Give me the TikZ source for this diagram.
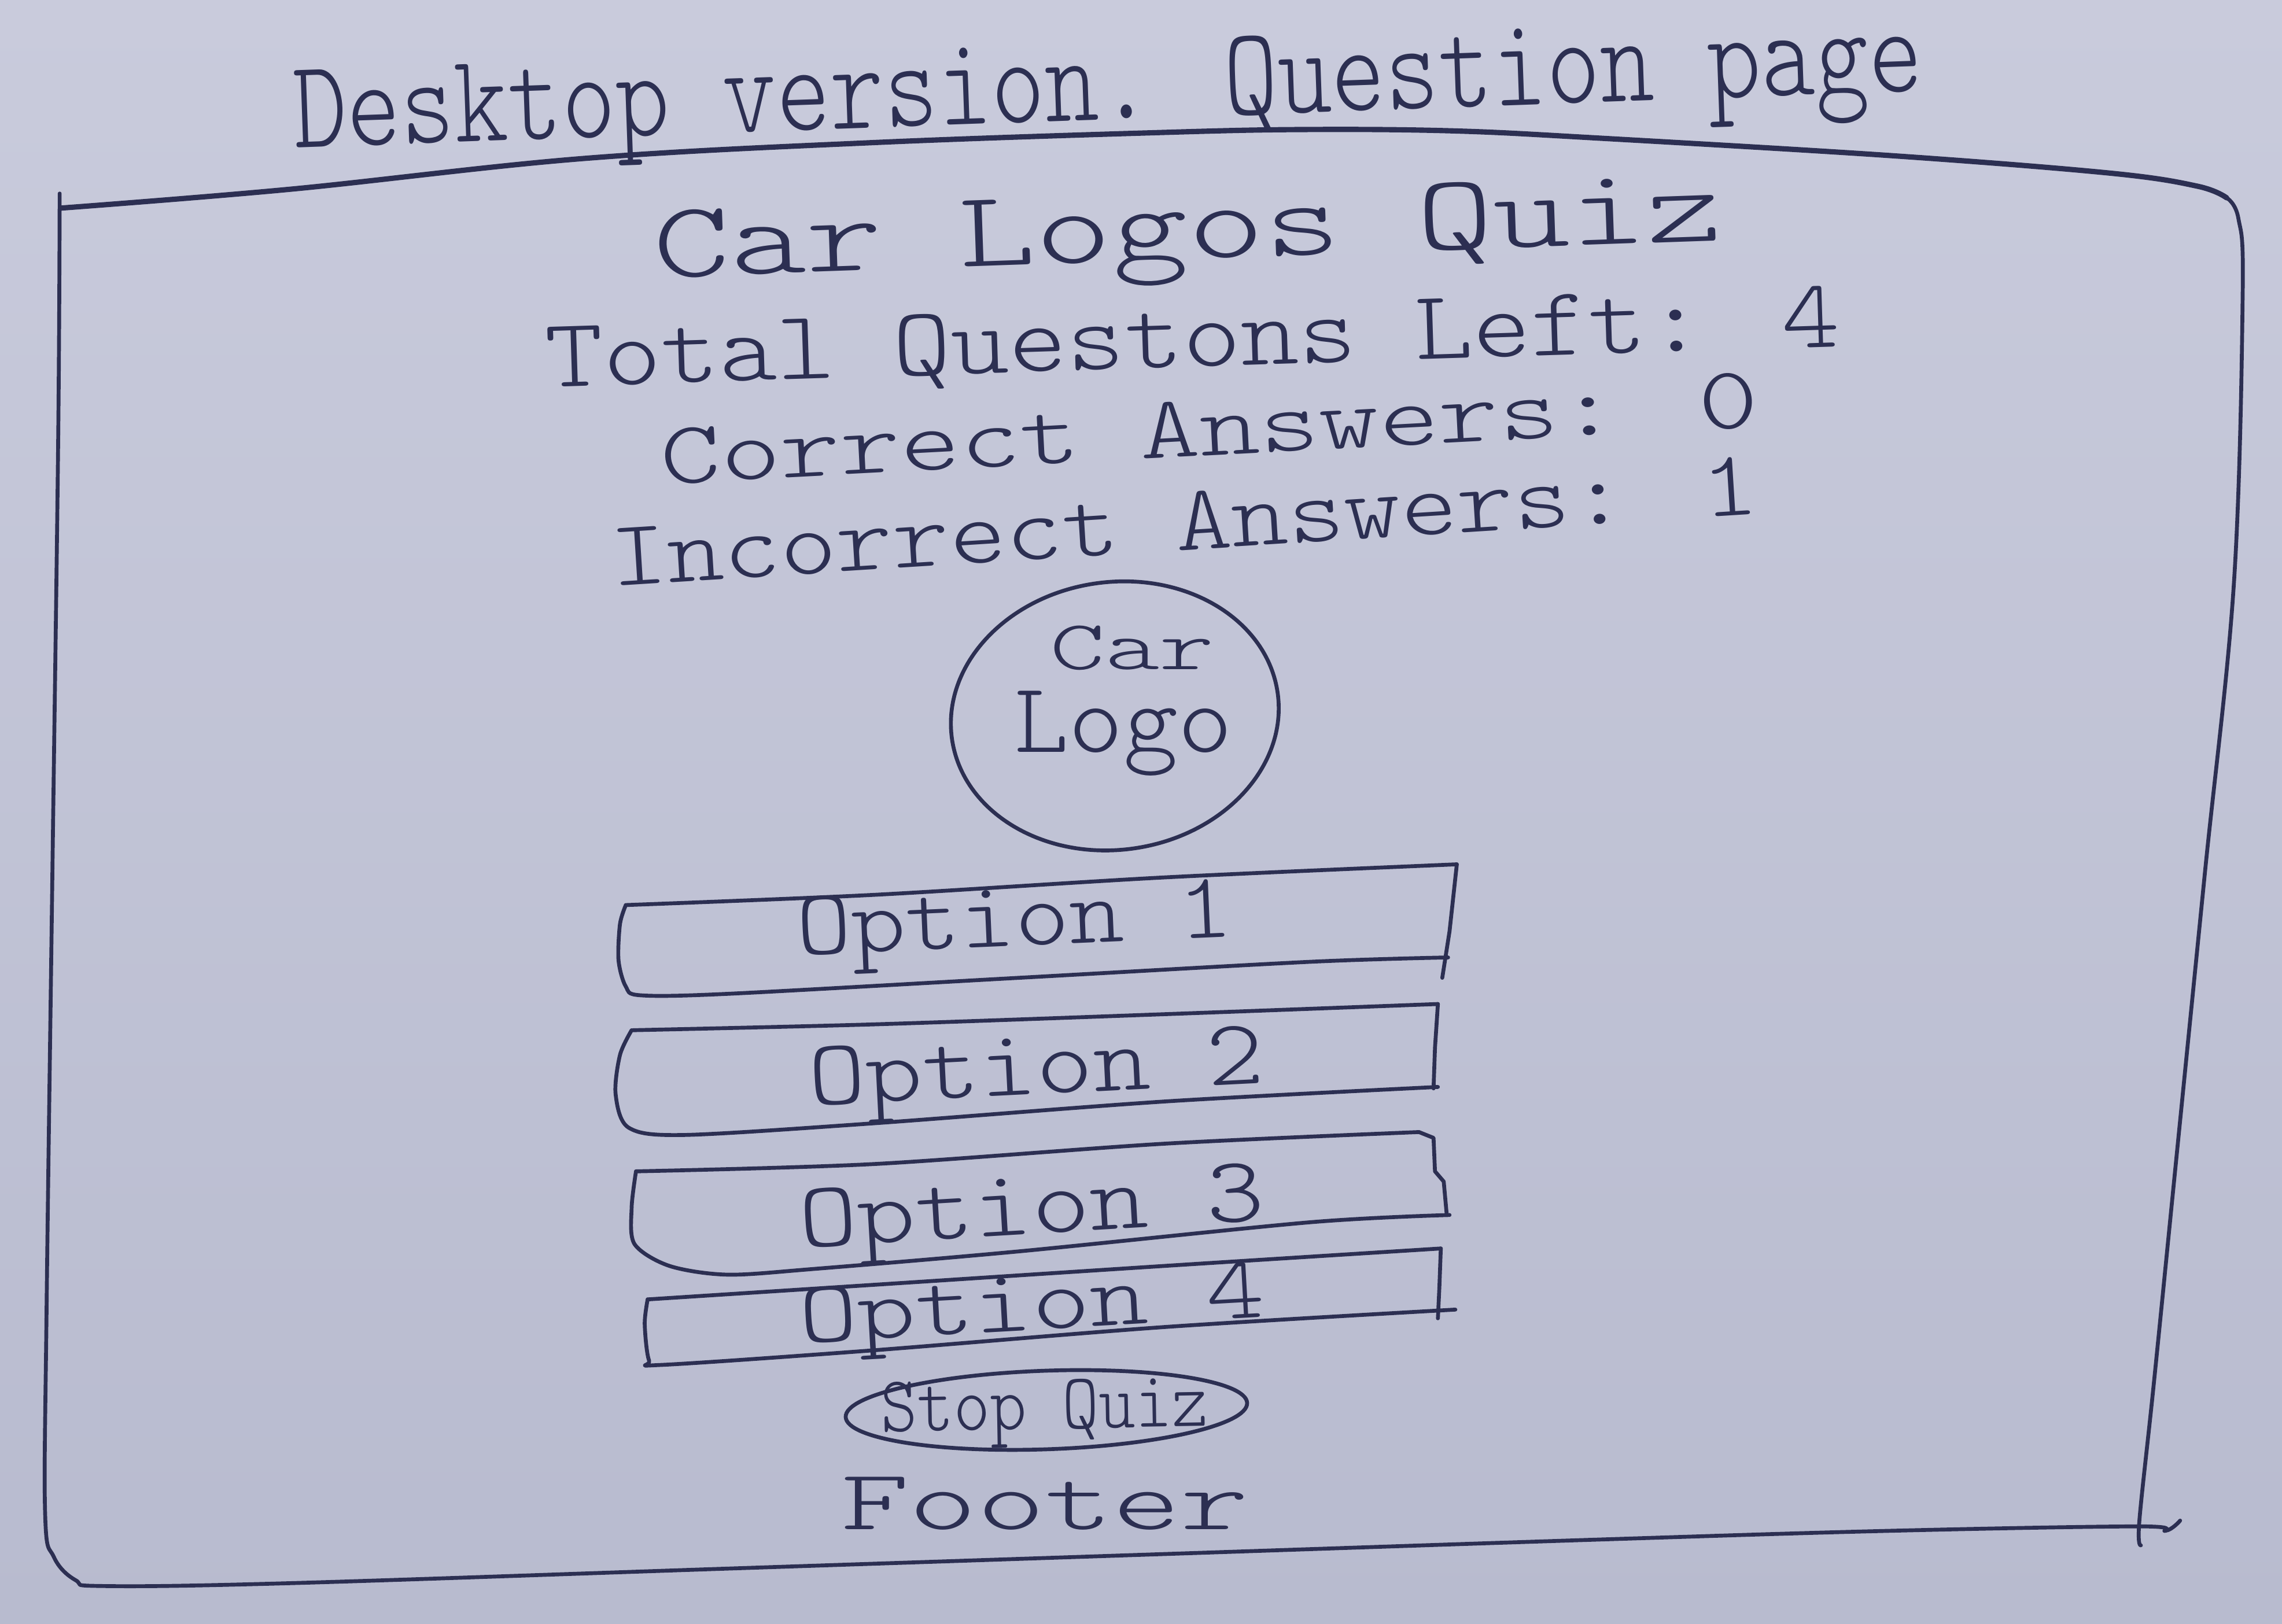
\documentclass[tikz,border=0pt]{standalone}
\usepackage{fontspec}
\usepackage{graphicx}
\usetikzlibrary{shapes.geometric}

% thin, evenly spaced lettering
\newfontfamily\handfont{lmmonolt10-regular.otf}

\definecolor{ink}{HTML}{2C2F52}
\definecolor{papertop}{HTML}{C9CBDC}
\definecolor{paperbot}{HTML}{B8BBCF}

% one drawing unit of the sheet
\newlength\pxu
\setlength\pxu{0.02516cm}
% hand-lettered label squeezed into a given width and cap height
\newcommand\hand[3]{\resizebox{#1\pxu}{#2\pxu}{\handfont #3}}

\tikzset{
  pen/.style={draw=ink, line width=1.9pt, line cap=round, line join=round},
  thickpen/.style={pen, line width=2.6pt},
  txt/.style={inner sep=0pt, anchor=base, text=ink},
}

\begin{document}
\begin{tikzpicture}[x=0.02516cm, y=-0.02516cm]
  % paper
  \useasboundingbox (0,0) rectangle (1568,1116);
  \fill[top color=papertop, bottom color=paperbot] (0,0) rectangle (1568,1116);

  % heading above the sheet
  \node[txt, rotate=2] (title) at (762,82) {\hand{1120}{54}{Desktop version. Question page}};

  % browser window frame
  \draw[thickpen] plot[smooth, tension=0.6] coordinates {
    (42,143) (200,130) (400,109) (600,98) (800,91) (900,89) (1000,90)
    (1100,95) (1300,107) (1450,119) (1510,128) (1530,136)};
  \draw[pen] plot[smooth, tension=0.6] coordinates {
    (1530,136) (1538,150) (1541,200) (1535,400) (1515,600) (1495,800)
    (1480,950) (1470,1045) (1471,1062)};
  \draw[pen] plot[smooth, tension=0.6] coordinates {
    (41,133) (40,300) (36,600) (32,900) (31,1040) (37,1070) (52,1086) (72,1090)
    (200,1088) (500,1078) (800,1068) (1100,1058) (1300,1052) (1470,1049)
    (1488,1052) (1498,1045)};

  % page header
  \node[txt, rotate=2]   (heading) at (817,178) {\hand{735}{46}{Car Logos Quiz}};
  \node[txt, rotate=1.8] (left)    at (820,252) {\hand{890}{42}{Total Questons Left: 4}};
  \node[txt, rotate=3]   (correct) at (832,313) {\hand{755}{38}{Correct Answers: 0}};
  \node[txt, rotate=3.6] (wrong)   at (815,378) {\hand{790}{40}{Incorrect Answers: 1}};

  % logo placeholder
  \node[pen, ellipse, minimum width=226\pxu, minimum height=184\pxu,
        inner sep=0pt, rotate=8] (logo) at (766,492) {};
  \node[txt] (logocar)  at (778,460) {\hand{113}{30}{Car}};
  \node[txt] (logoword) at (772,517) {\hand{150}{42}{Logo}};

  % answer buttons
  \draw[pen] plot[smooth, tension=0.5] coordinates {
    (430,622) (600,615) (800,603) (1001,594)};
  \draw[pen] (1001,594) -- (996,640) -- (991,672);
  \draw[pen] plot[smooth, tension=0.5] coordinates {
    (995,658) (900,661) (700,672) (500,683) (440,684) (430,678) (425,660) (426,635) (430,622)};
  \node[txt, rotate=2.5] (opt1) at (698,650) {\hand{300}{40}{Option 1}};

  \draw[pen] plot[smooth, tension=0.5] coordinates {
    (435,708) (600,704) (800,697) (988,690)};
  \draw[pen] (988,690) -- (986,720) -- (985,748);
  \draw[pen] plot[smooth, tension=0.5] coordinates {
    (988,747) (800,757) (600,772) (470,780) (432,775) (423,752) (426,725) (434,708)};
  \node[txt, rotate=2.9] (opt2) at (713,752) {\hand{313}{40}{Option 2}};

  \draw[pen] plot[smooth, tension=0.5] coordinates {
    (437,805) (600,800) (800,786) (975,778)};
  \draw[pen] (975,778) -- (985,782) -- (986,805) -- (992,812) -- (994,834);
  \draw[pen] plot[smooth, tension=0.5] coordinates {
    (996,835) (900,840) (700,860) (560,872) (500,876) (460,870) (436,855) (434,830) (437,805)};
  \node[txt, rotate=3.4] (opt3) at (710,848) {\hand{320}{40}{Option 3}};

  \draw[pen] plot[smooth, tension=0.5] coordinates {
    (445,893) (600,883) (800,870) (990,858)};
  \draw[pen] (990,858) -- (989,885) -- (988,906);
  \draw[pen] plot[smooth, tension=0.5] coordinates {
    (1000,900) (800,912) (600,928) (455,938) (446,935) (443,910) (445,893)};
  \node[txt, rotate=3.2] (opt4) at (710,914) {\hand{320}{38}{Option 4}};

  % stop button
  \node[pen, ellipse, minimum width=276\pxu, minimum height=54\pxu,
        inner sep=0pt, rotate=2] (stop) at (719,969) {};
  \node[txt, rotate=1] (stoptext) at (718,982) {\hand{225}{34}{Stop Quiz}};

  % footer
  \node[txt] (footer) at (718,1051) {\hand{280}{36}{Footer}};
\end{tikzpicture}
\end{document}
